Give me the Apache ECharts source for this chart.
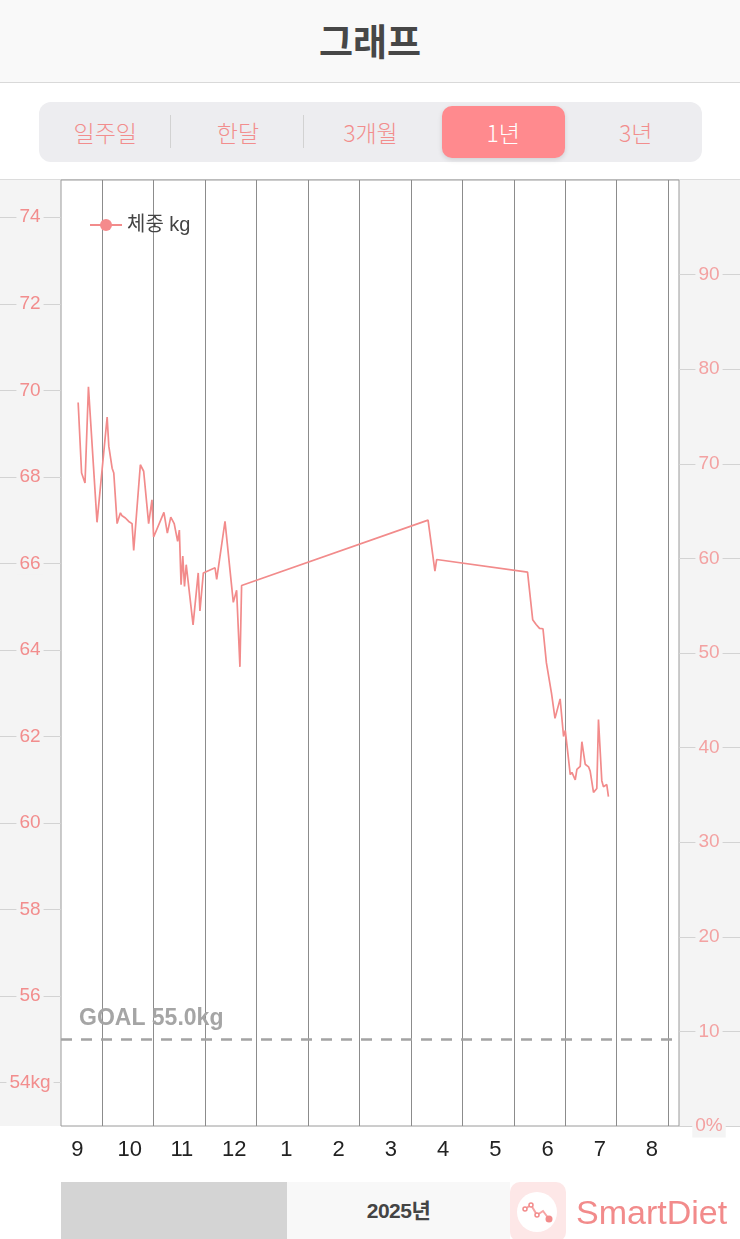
<!DOCTYPE html>
<html>
<head>
<meta charset="utf-8">
<script src="https://cdn.jsdelivr.net/npm/echarts@6/dist/echarts.min.js"></script>
<style>
  html, body { margin: 0; padding: 0; background: #fff; }
  body { width: 740px; height: 1239px; position: relative; overflow: hidden;
         font-family: "Liberation Sans", "Noto Sans CJK KR", sans-serif; }
  #weight-chart { position: absolute; left: 0; top: 0; width: 740px; height: 1239px; }
  .header { position: absolute; left: 0; top: 0; width: 740px; height: 82px; background: #f9f9f9;
            border-bottom: 1px solid #d9d9d9; text-align: center; line-height: 80px;
            font-family: "Noto Sans CJK KR", sans-serif; font-weight: bold; font-size: 37px; color: #474747; z-index: 2; }
  .tabs { position: absolute; left: 39px; top: 102px; width: 663px; height: 60px; background: #ededf0;
          border-radius: 12px; z-index: 2; font-family: "Noto Sans CJK KR", sans-serif; }
  .tab { position: absolute; top: 0; width: 132.6px; height: 60px; line-height: 60px; text-align: center;
         font-size: 23px; font-weight: 300; color: #f28d8d; }
  .tab.on { top: 4px; height: 52px; line-height: 52px; width: 123px; margin-left: 5px; background: #ff8a8e;
            color: #fff; border-radius: 10px; box-shadow: 0 2px 5px rgba(0,0,0,0.12); }
  .sep { position: absolute; top: 13px; width: 1px; height: 33px; background: #d2d2d2; }
  .scroll { position: absolute; left: 61px; top: 1182px; width: 449px; height: 57px; background: #f8f8f8; z-index: 2; }
  .thumb { position: absolute; left: 0; top: 0; width: 226px; height: 57px; background: #d4d4d4; }
  .year { position: absolute; left: 226px; width: 223px; top: 0; line-height: 57px; text-align: center;
          font-weight: bold; font-size: 21px; color: #444; letter-spacing: -0.5px; }
  .logo { position: absolute; left: 510px; top: 1182px; z-index: 2; }
  .brand { position: absolute; left: 576px; top: 1192px; font-size: 34px; line-height: 40px; color: #f28b8b; z-index: 2; }
</style>
</head>
<body>
<div id="weight-chart"></div>
<div class="header">그래프</div>
<div class="tabs">
  <div class="tab" style="left:0">일주일</div>
  <div class="sep" style="left:131px"></div>
  <div class="tab" style="left:132.6px">한달</div>
  <div class="sep" style="left:264px"></div>
  <div class="tab" style="left:265.2px">3개월</div>
  <div class="tab on" style="left:397.8px">1년</div>
  <div class="tab" style="left:530.4px">3년</div>
</div>
<div class="scroll"><div class="thumb"></div><div class="year">2025년</div></div>
<svg class="logo" width="56" height="57" viewBox="0 0 56 57">
  <rect x="0" y="0" width="56" height="60" rx="10" fill="#fde7e7"/>
  <circle cx="27" cy="30" r="20" fill="#fff"/>
  <polyline points="15,27 21,23 27,33 33,29 39,37" fill="none" stroke="#f7a5a5" stroke-width="2"/>
  <circle cx="15" cy="27" r="2" fill="#fff" stroke="#f28b8b" stroke-width="1.5"/>
  <circle cx="21" cy="23" r="2" fill="#fff" stroke="#f28b8b" stroke-width="1.5"/>
  <circle cx="27" cy="33" r="2" fill="#fff" stroke="#f28b8b" stroke-width="1.5"/>
  <circle cx="39" cy="37" r="3.5" fill="#f28b8b"/>
</svg>
<div class="brand">SmartDiet</div>
<script>
// 체중 기록 (날짜, kg)
const dates = [
  '2024-09-17','2024-09-19','2024-09-21','2024-09-23','2024-09-28',
  '2024-10-04','2024-10-05','2024-10-06','2024-10-07','2024-10-08','2024-10-10','2024-10-12',
  '2024-10-13','2024-10-14','2024-10-15','2024-10-16','2024-10-17','2024-10-18','2024-10-19',
  '2024-10-20','2024-10-21','2024-10-24','2024-10-26','2024-10-29','2024-10-31',
  '2024-11-01','2024-11-07','2024-11-09','2024-11-11','2024-11-13','2024-11-15','2024-11-16',
  '2024-11-17','2024-11-18','2024-11-19','2024-11-20','2024-11-24','2024-11-27','2024-11-28','2024-11-30',
  '2024-12-07','2024-12-08','2024-12-13','2024-12-18','2024-12-20','2024-12-22','2024-12-23',
  '2025-04-11','2025-04-15','2025-04-16',
  '2025-06-09','2025-06-12','2025-06-14','2025-06-16','2025-06-18','2025-06-20','2025-06-21',
  '2025-06-23','2025-06-24','2025-06-25','2025-06-28','2025-06-30',
  '2025-07-01','2025-07-04','2025-07-05','2025-07-07','2025-07-08','2025-07-10','2025-07-11',
  '2025-07-13','2025-07-15','2025-07-16','2025-07-18','2025-07-20','2025-07-21','2025-07-23',
  '2025-07-24','2025-07-26','2025-07-27'
];
const weights = [
  69.72, 68.09, 67.86, 70.08, 66.95,
  69.38, 68.71, 68.75, 68.2, 68.09, 66.92, 67.17,
  67.1, 67.09, 67.05, 67.08, 66.97, 66.99, 66.92,
  66.3, 66.29, 68.28, 68.13, 66.92, 67.47,
  66.61, 67.18, 66.7, 67.07, 66.92, 66.51, 66.77,
  65.51, 66.17, 65.47, 65.97, 64.58, 65.78, 64.9, 65.78,
  65.9, 65.63, 66.97, 65.1, 65.38, 63.61, 65.49,
  67.0, 65.82, 66.09,
  65.8, 64.7, 64.59, 64.5, 64.49, 63.7, 63.66,
  62.99, 62.95, 62.42, 62.87, 62.0,
  62.14, 61.12, 61.17, 61.0, 61.24, 61.31, 61.88,
  61.36, 61.3, 61.2, 60.71, 60.8, 62.39, 60.98,
  60.84, 60.89, 60.61
];
const goalWeight = 55.0;
const monthLabels = ['9','10','11','12','1','2','3','4','5','6','7','8'];
const kgTicks = [54, 56, 58, 60, 62, 64, 66, 68, 70, 72, 74];
const pctTicks = [0, 10, 20, 30, 40, 50, 60, 70, 80, 90];

// 2024년 9월 1일 = 0, 한 달 = 1
function monthPos(s) {
  const [y, m, d] = s.split('-').map(Number);
  const days = new Date(y, m, 0).getDate();
  return (y - 2024) * 12 + (m - 9) + (d - 1) / days;
}
const monthLines = monthLabels.map((_, i) => i + 1);
const labelPos = monthLabels.map((_, i) => 0.52 + i * 1.015);

const seriesData = dates.map((d, i) => [monthPos(d), weights[i]]);

const chart = echarts.init(document.getElementById('weight-chart'));
const numFont = '"Liberation Sans", "Noto Sans CJK KR", sans-serif';

chart.setOption({
  backgroundColor: '#fff',
  animation: false,
  graphic: [
    { type: 'rect', shape: { x: 0, y: 180, width: 61, height: 946 }, style: { fill: '#f4f4f4' }, z: -10 },
    { type: 'rect', shape: { x: 679, y: 180, width: 61, height: 946 }, style: { fill: '#f4f4f4' }, z: -10 },
    { type: 'line', shape: { x1: 0, y1: 179.5, x2: 740, y2: 179.5 }, style: { stroke: '#dcdcdc', lineWidth: 1 }, z: -9 }
  ],
  legend: {
    data: ['체중 kg'],
    left: 84, top: 210,
    itemWidth: 32, itemHeight: 15,
    textStyle: { color: '#444', fontSize: 20, fontFamily: numFont }
  },
  grid: {
    left: 61, top: 180, width: 618, height: 946,
    outerBoundsMode: 'none',
    show: true, backgroundColor: '#fff', borderColor: '#9a9a9a', borderWidth: 1
  },
  xAxis: {
    type: 'value', min: 0.2, max: 12.21,
    axisLine: { show: false },
    axisTick: { show: false, customValues: monthLines },
    splitLine: { show: true, lineStyle: { color: '#8c8c8c', width: 1 } },
    axisLabel: {
      customValues: labelPos,
      formatter: v => monthLabels[labelPos.findIndex(p => Math.abs(p - v) < 0.01)],
      color: '#222', fontSize: 22, margin: 13, fontFamily: numFont
    }
  },
  yAxis: [
    {
      type: 'value', min: 53, max: 74.86, position: 'left',
      axisLine: { show: false },
      axisTick: { show: true, customValues: kgTicks, length: 61, lineStyle: { color: '#d3d3d3' } },
      splitLine: { show: false },
      axisLabel: {
        customValues: kgTicks,
        formatter: v => v === 54 ? '54kg' : String(v),
        color: '#f28d8d', fontSize: 19, margin: 31, align: 'center', fontFamily: numFont,
        backgroundColor: '#f4f4f4', padding: [2, 3]
      }
    },
    {
      type: 'value', min: 0, max: 100, position: 'right',
      axisLine: { show: false },
      axisTick: { show: true, customValues: pctTicks, length: 61, lineStyle: { color: '#d3d3d3' } },
      splitLine: { show: false },
      axisLabel: {
        customValues: pctTicks,
        formatter: v => v === 0 ? '0%' : String(v),
        color: '#f3a2a2', fontSize: 19, margin: 30, align: 'center', fontFamily: numFont,
        backgroundColor: '#f4f4f4', padding: [2, 3]
      }
    }
  ],
  series: [
    {
      name: '체중 kg',
      type: 'line',
      yAxisIndex: 0,
      data: seriesData,
      symbol: 'circle',
      symbolSize: 14,
      showSymbol: false,
      color: '#f58a8c',
      lineStyle: { color: '#f28b8b', width: 1.7 },
      z: 3,
      markLine: {
        silent: true,
        symbol: 'none',
        lineStyle: { color: '#a3a3a3', type: [11, 9], width: 2.5 },
        label: {
          position: 'insideStartTop',
          distance: [18, 9],
          formatter: 'GOAL ' + goalWeight.toFixed(1) + 'kg',
          color: '#a5a5a5', fontSize: 23, fontWeight: 'bold', fontFamily: numFont
        },
        data: [{ yAxis: goalWeight }]
      }
    }
  ]
});
</script>
</body>
</html>
